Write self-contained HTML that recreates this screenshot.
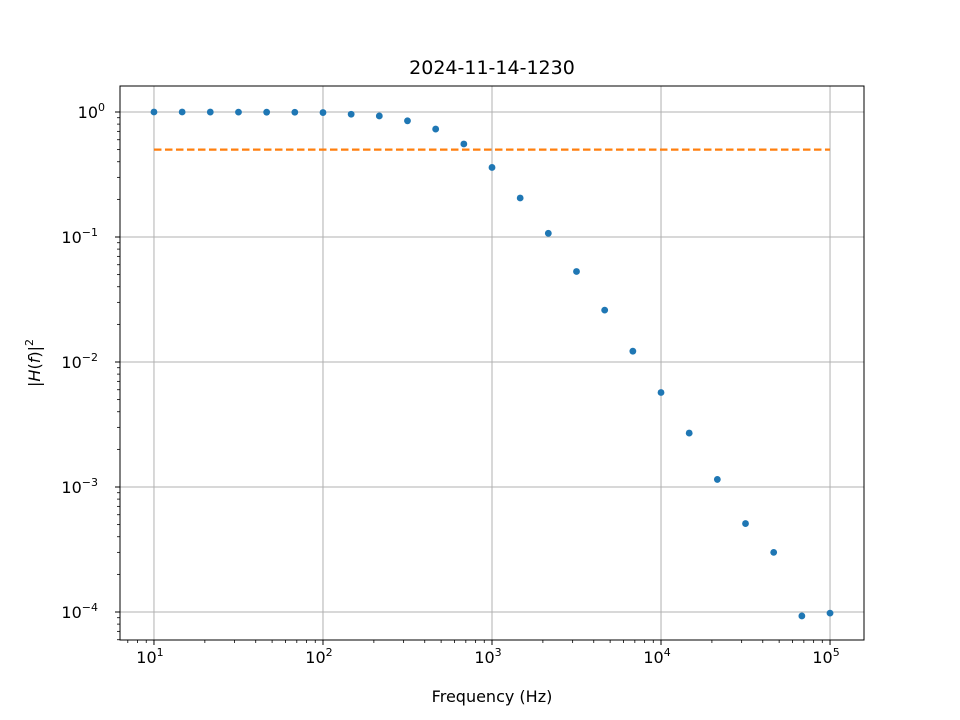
<!DOCTYPE html>
<html><head><meta charset="utf-8"><style>
body{margin:0;background:#fff}
svg{display:block;font-family:"DejaVu Sans","Liberation Sans",sans-serif}
</style></head><body>
<svg id="chart" width="960" height="720"></svg>
<script>
const freqs=[10,14.68,21.54,31.62,46.42,68.13,100,146.8,215.4,316.2,464.2,681.3,1000,1468,2154,3162,4642,6813,10000,14680,21540,31620,46420,68130,100000];
const gains=[1.0,1.0,0.999,0.998,0.997,0.995,0.99,0.96,0.93,0.85,0.73,0.555,0.36,0.205,0.107,0.053,0.026,0.0122,0.0057,0.0027,0.00115,0.00051,0.0003,0.000093,0.000098];
const cutoff=[0.5];
const xTicks=[1,2,3,4,5];
const yTicks=[0,-1,-2,-3,-4];
const L=120,R=864,T=86,B=640;
const xmin=0.799,xmax=5.201,ymin=-4.224,ymax=0.208;
const X=v=>L+(Math.log10(v)-xmin)/(xmax-xmin)*(R-L);
const Y=v=>B-(Math.log10(v)-ymin)/(ymax-ymin)*(B-T);
const svg=document.getElementById('chart');const NS='http://www.w3.org/2000/svg';
function el(t,a,txt){const e=document.createElementNS(NS,t);for(const k in a)e.setAttribute(k,a[k]);if(txt!==undefined)e.textContent=txt;svg.appendChild(e);return e;}
xTicks.forEach(p=>{const x=X(Math.pow(10,p));
const g=el('line',{x1:x,x2:x,y1:T,y2:B,stroke:'#b0b0b0','stroke-width':1});

});
yTicks.forEach(p=>{const y=Y(Math.pow(10,p));
const g=el('line',{x1:L,x2:R,y1:y,y2:y,stroke:'#b0b0b0','stroke-width':1});

});
for(let d=0;d<=5;d++)for(let m=2;m<=9;m++){const v=m*Math.pow(10,d);const x=X(v);if(x>L&&x<R)el('line',{x1:x,x2:x,y1:B,y2:B+3,stroke:'#000','stroke-width':0.8});}
for(let d=-5;d<=0;d++)for(let m=2;m<=9;m++){const v=m*Math.pow(10,d);const y=Y(v);if(y>T&&y<B)el('line',{x1:L-3,x2:L,y1:y,y2:y,stroke:'#000','stroke-width':0.8});}
xTicks.forEach(p=>{const x=X(Math.pow(10,p));el('line',{x1:x,x2:x,y1:B,y2:B+5,stroke:'#000','stroke-width':1});
const t=el('text',{x:x-4,y:B+23,'font-size':16,'text-anchor':'middle'});t.innerHTML='10<tspan dy="-7" font-size="11">'+p+'</tspan>';

});
yTicks.forEach(p=>{const y=Y(Math.pow(10,p));el('line',{x1:L-5,x2:L,y1:y,y2:y,stroke:'#000','stroke-width':1});
const s=p===0?'0':'\u2212'+(-p);
const t=el('text',{x:L-8-(p===0?7:14),y:y+6,'font-size':16,'text-anchor':'end'});t.innerHTML='10<tspan dy="-7" font-size="11">'+s+'</tspan>';

});
cutoff.forEach(c=>{const l=el('line',{x1:X(freqs[0]),x2:X(freqs[freqs.length-1]),y1:Y(c),y2:Y(c),stroke:'#ff7f0e','stroke-width':2.2,'stroke-dasharray':'7.5,3.5'});

});
freqs.forEach((f,i)=>{const c=el('circle',{cx:X(f),cy:Y(gains[i]),r:3.4,fill:'#1f77b4'});

});
const fr=el('rect',{x:L,y:T,width:R-L,height:B-T,fill:'none',stroke:'#000','stroke-width':1});


const ti=el('text',{x:492,y:74,'font-size':19,'text-anchor':'middle'},'2024-11-14-1230');


const xl=el('text',{x:492,y:702,'font-size':16,'text-anchor':'middle'},'Frequency (Hz)');


const yl=el('text',{x:0,y:0,'font-size':16,'text-anchor':'middle',transform:'translate(40,363) rotate(-90)'});
yl.innerHTML='|<tspan font-style="italic">H</tspan>(<tspan font-style="italic">f</tspan>)|<tspan dy="-7" font-size="11">2</tspan>';


</script>
</body></html>
